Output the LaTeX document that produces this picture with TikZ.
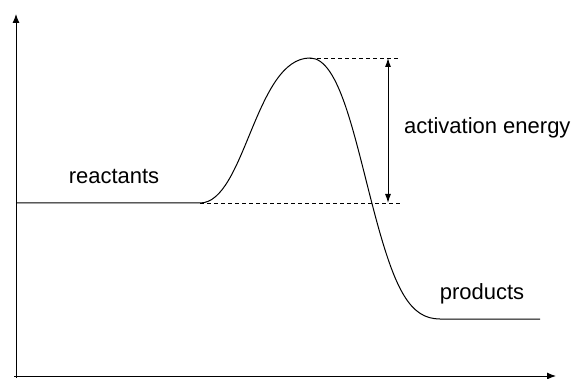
\documentclass[tikz,border=0pt]{standalone}
\usepackage{fontspec}
\setmainfont{Liberation Sans}
\usepackage{tikz}
\usetikzlibrary{arrows.meta}

\begin{document}
\begin{tikzpicture}[x=1pt, y=-1pt]
            \useasboundingbox (0,0) rectangle (572,379);
            \tikzset{lbl/.style={font=\fontsize{22}{26}\selectfont}}
            
            % axes
            \draw[-{Latex[length=9pt,width=7pt]}, line width=1pt] (16,378) -- (16,14);
            \draw[-{Latex[length=9pt,width=7pt]}, line width=1pt] (14,376) -- (556,376);
            
            % energy curve
            \draw[line width=1pt] (16,203) -- (200,203)
                .. controls (245,203) and (255,58) .. (310,58)
                .. controls (340,58) and (355,140) .. (375,215)
                .. controls (395,290) and (410,319) .. (440,319)
                -- (540,319);
            
            % dashed levels
            \draw[dashed, line width=0.8pt, dash pattern=on 4pt off 3pt] (310,58) -- (400,58);
            \draw[dashed, line width=0.8pt, dash pattern=on 4pt off 3pt] (200,203) -- (400,203);
            
            % activation energy arrow
            \coordinate (top) at (388,58);
            \coordinate (bot) at (388,203);
            \draw[{Latex[length=9pt,width=6pt]}-{Latex[length=9pt,width=6pt]}, line width=1pt] (top) -- (bot);
            
            % labels
            \node[lbl, anchor=west, inner sep=0pt] (ea) at (404,128) {activation energy};
            \node[lbl] (reac) at (114,176) {reactants};
            \node[lbl] (prod) at (482,294) {products};
        \end{tikzpicture}
\end{document}
